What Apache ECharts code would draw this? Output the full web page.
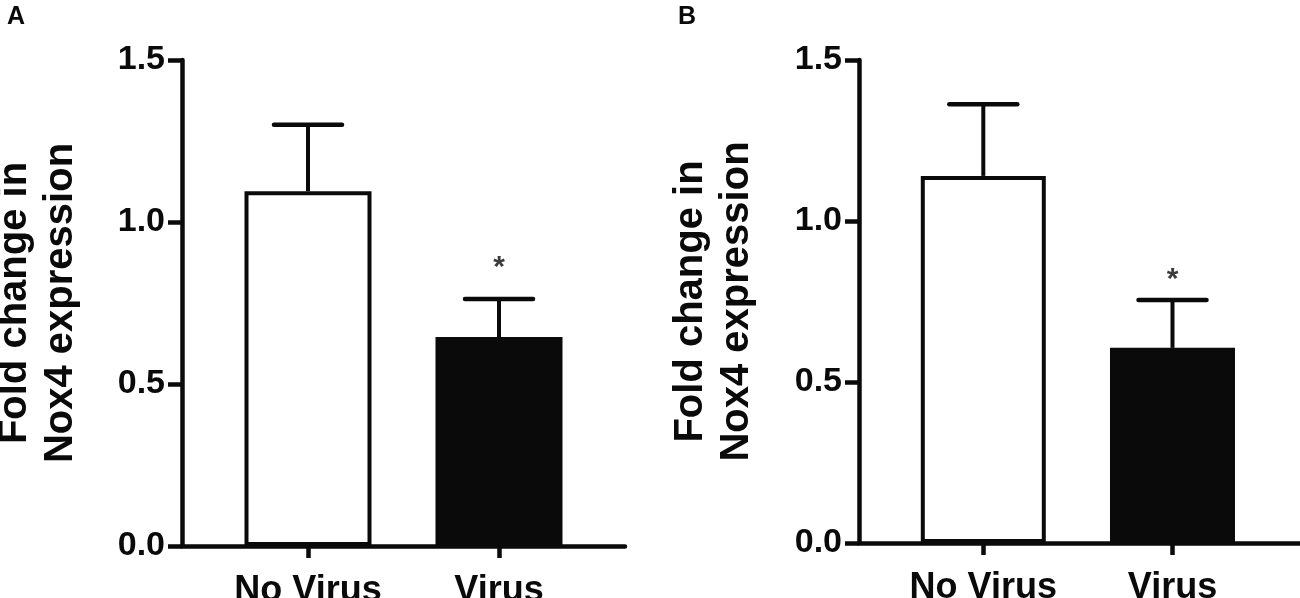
<!DOCTYPE html>
<html>
<head>
<meta charset="utf-8">
<script src="https://cdn.jsdelivr.net/npm/echarts@6/dist/echarts.min.js"></script>
<style>
  html, body { margin: 0; padding: 0; background: #fff; }
  #main { width: 1300px; height: 598px; }
</style>
</head>
<body>
<div id="main"></div>
<script>
// data
var categories = ['No Virus', 'Virus'];
var catPos = [1, 2];
var yTicks = [0, 0.5, 1.0, 1.5];

// panel A
var meanA = [1.095, 0.645];
var sdA = [0.205, 0.117];
var starA = [null, 0.87];

// panel B
var meanB = [1.14, 0.606];
var sdB = [0.2225, 0.149];
var starB = [null, 0.83];

var FONT = '"Liberation Sans", Arial, Helvetica, sans-serif';
var INK = '#0a0a0a';

var chart = echarts.init(document.getElementById('main'), null, { renderer: 'canvas' });

function xAxisFor(idx, min, max) {
  return {
    type: 'value', gridIndex: idx, min: min, max: max,
    splitLine: { show: false },
    axisLine: { show: true, lineStyle: { color: INK, width: 4.5 } },
    axisTick: { show: true, customValues: catPos, length: 12, lineStyle: { color: INK, width: 4.5 } },
    axisLabel: {
      customValues: catPos, margin: 27,
      fontFamily: FONT, fontWeight: 'bold', fontSize: 36, color: INK,
      formatter: function (v) { return categories[Math.round(v) - 1] || ''; }
    }
  };
}

function yAxisFor(idx, gap) {
  return {
    type: 'value', gridIndex: idx,
    min: yTicks[0], max: yTicks[yTicks.length - 1], interval: 0.5,
    splitLine: { show: false },
    axisLine: { show: true, lineStyle: { color: INK, width: 4.5 } },
    axisTick: { show: true, length: 14, lineStyle: { color: INK, width: 4.5 } },
    axisLabel: {
      margin: 17, fontFamily: FONT, fontWeight: 'bold', fontSize: 34, color: INK,
      formatter: function (v) { return v.toFixed(1); }
    },
    name: 'Fold change in\nNox4 expression',
    nameLocation: 'middle', nameRotate: 90, nameGap: gap,
    nameTextStyle: { fontFamily: FONT, fontWeight: 'bold', fontSize: 40, lineHeight: 46, color: INK }
  };
}

function barSeries(idx, mean, width) {
  return {
    type: 'bar', xAxisIndex: idx, yAxisIndex: idx, barWidth: width, z: 2,
    data: mean.map(function (m, i) {
      return {
        value: [catPos[i], m],
        itemStyle: { color: i === 0 ? '#fff' : INK, borderColor: INK, borderWidth: 4 }
      };
    })
  };
}

function errSeries(idx, mean, sd) {
  return {
    type: 'custom', xAxisIndex: idx, yAxisIndex: idx, z: 3,
    data: mean.map(function (m, i) { return [catPos[i], m, sd[i]]; }),
    renderItem: function (params, api) {
      var x = api.value(0), m = api.value(1), s = api.value(2);
      var p0 = api.coord([x, m]);
      var p1 = api.coord([x, m + s]);
      return {
        type: 'group',
        children: [
          { type: 'line', shape: { x1: p0[0], y1: p0[1], x2: p1[0], y2: p1[1] },
            style: { stroke: INK, lineWidth: 4 } },
          { type: 'line', shape: { x1: p1[0] - 34, y1: p1[1], x2: p1[0] + 34, y2: p1[1] },
            style: { stroke: INK, lineWidth: 4.5, lineCap: 'round' } }
        ]
      };
    }
  };
}

function starSeries(idx, star) {
  return {
    type: 'scatter', xAxisIndex: idx, yAxisIndex: idx, symbolSize: 1, z: 4,
    itemStyle: { color: 'rgba(0,0,0,0)' },
    data: star.map(function (v, i) { return v == null ? null : [catPos[i], v]; })
      .filter(function (d) { return d; }),
    label: {
      show: true, position: 'inside', formatter: '*',
      fontFamily: FONT, fontWeight: 'bold', fontSize: 30, color: INK, offset: [0, 4]
    }
  };
}

var option = {
  backgroundColor: '#fff',
  animation: false,
  title: [
    { text: 'A', left: 2, top: 0, textStyle: { fontFamily: FONT, fontWeight: 'bold', fontSize: 25, color: INK } },
    { text: 'B', left: 673, top: 0, textStyle: { fontFamily: FONT, fontWeight: 'bold', fontSize: 25, color: INK } }
  ],
  grid: [
    { left: 182, right: 675, top: 60, bottom: 52, containLabel: false, outerBoundsMode: 'none' },
    { left: 859, right: 0, top: 60, bottom: 55, containLabel: false, outerBoundsMode: 'none' }
  ],
  xAxis: [
    xAxisFor(0, 0.3403, 2.6597),
    xAxisFor(1, 0.343, 2.674)
  ],
  yAxis: [
    yAxisFor(0, 98),
    yAxisFor(1, 99)
  ],
  series: [
    barSeries(0, meanA, 127),
    errSeries(0, meanA, sdA),
    starSeries(0, starA),
    barSeries(1, meanB, 125),
    errSeries(1, meanB, sdB),
    starSeries(1, starB)
  ]
};

chart.setOption(option);
</script>
</body>
</html>
